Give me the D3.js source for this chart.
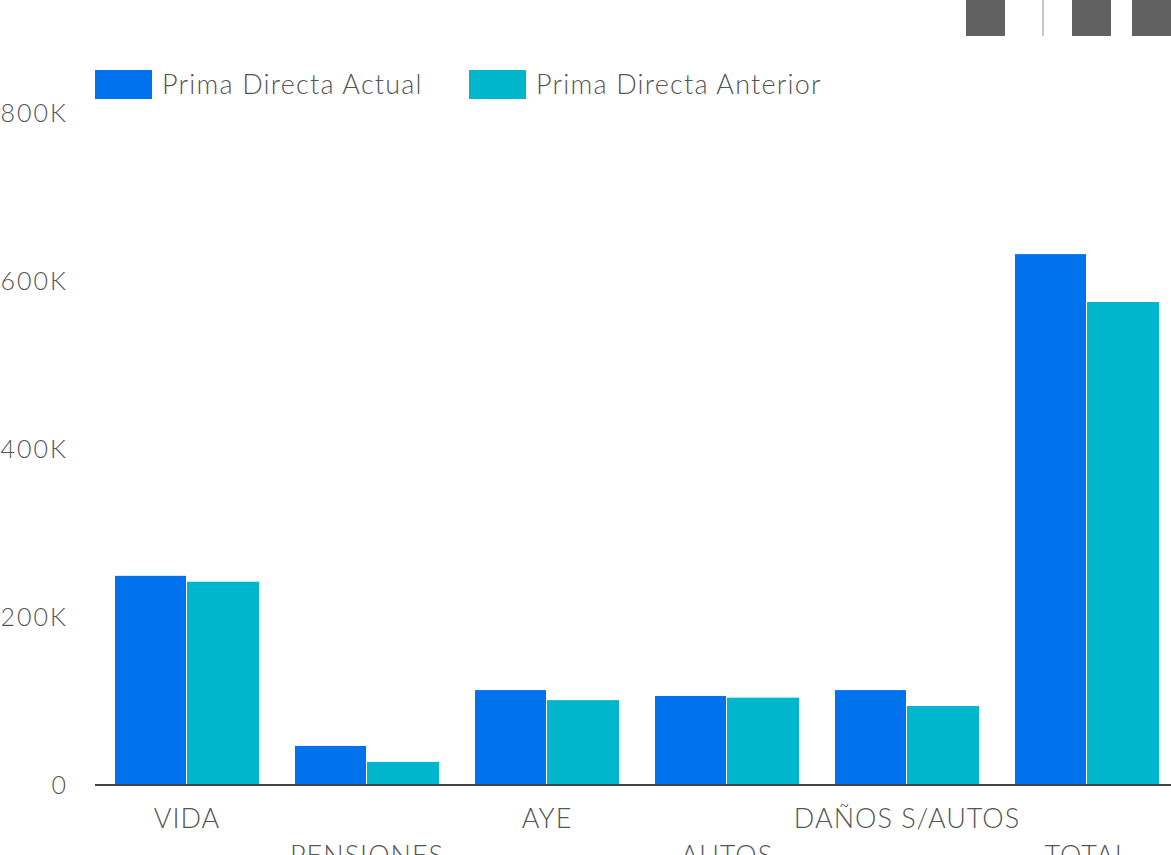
<!DOCTYPE html>
<html>
<head>
<meta charset="utf-8">
<script src="https://cdn.jsdelivr.net/npm/d3@7"></script>
<style>
  body { margin: 0; background: #fff; overflow: hidden; }
  svg text { font-family: Lato, "Open Sans", sans-serif; font-weight: 300; fill: #555; letter-spacing: 1px; }
</style>
</head>
<body>
<div id="chart"></div>
<script>
var categories = ["VIDA", "PENSIONES", "AYE", "AUTOS", "DAÑOS S/AUTOS", "TOTAL"];
var seriesNames = ["Prima Directa Actual", "Prima Directa Anterior"];
var actual = [249000, 46500, 113000, 106000, 113000, 632000];
var anterior = [242000, 27500, 101000, 104000, 94000, 575000];
var yTicks = [0, 200000, 400000, 600000, 800000];
var colors = ["#0072ee", "#00b6cc"];

var width = 1171, height = 855;
var svg = d3.select("#chart").append("svg")
    .attr("width", width)
    .attr("height", height);

// toolbar bits in the top right corner
[966, 1072, 1132].forEach(function(x) {
  svg.append("rect").attr("x", x).attr("y", 0).attr("width", 39).attr("height", 36).attr("fill", "#616161");
});
svg.append("rect").attr("x", 1042).attr("y", 0).attr("width", 2).attr("height", 36).attr("fill", "#c8c8c8");

var rows = categories.map(function(c, i) {
  return { cat: c, values: [actual[i], anterior[i]] };
});

var x0 = d3.scaleBand().domain(categories).range([97, 1177]).paddingInner(0.2).paddingOuter(0.1);
var x1 = d3.scaleBand().domain([0, 1]).range([0, x0.bandwidth()]);
var y = d3.scaleLinear().domain([0, 800000]).range([785, 113]);

// y labels
svg.selectAll(".ytick").data(yTicks).enter().append("text")
    .attr("class", "ytick")
    .attr("x", 68)
    .attr("y", function(d) { return y(d) + 9; })
    .attr("text-anchor", "end")
    .style("font-size", "25px")
    .style("letter-spacing", "2px")
    .text(function(d) { return d === 0 ? "0" : d3.format("d")(d / 1000) + "K"; });

// bars (1px white gap between the pair)
var groups = svg.selectAll(".grp").data(rows).enter().append("g")
    .attr("transform", function(d) { return "translate(" + x0(d.cat) + ",0)"; });

groups.selectAll("rect").data(function(d) { return d.values; }).enter().append("rect")
    .attr("x", function(d, i) { return x1(i); })
    .attr("width", function(d, i) { return i ? x1.bandwidth() : x1.bandwidth() - 1; })
    .attr("y", function(d) { return y(d); })
    .attr("height", function(d) { return y(0) - y(d); })
    .attr("fill", function(d, i) { return colors[i]; });

// axis line
svg.append("rect").attr("x", 95).attr("y", 784).attr("width", 1076).attr("height", 2).attr("fill", "#444");

// x labels, staggered on two rows
svg.selectAll(".xlab").data(categories).enter().append("text")
    .attr("class", "xlab")
    .attr("x", function(d) { return x0(d) + x0.bandwidth() / 2; })
    .attr("y", function(d, i) { return i % 2 ? 865 : 828; })
    .attr("text-anchor", "middle")
    .style("font-size", "27px")
    .text(function(d) { return d; });

// legend
var legendX = [95, 469];
seriesNames.forEach(function(name, i) {
  svg.append("rect").attr("x", legendX[i]).attr("y", 70).attr("width", 57).attr("height", 29).attr("fill", colors[i]);
  svg.append("text").attr("x", legendX[i] + 67).attr("y", 94)
      .style("font-size", "27px")
      .style("letter-spacing", "1.2px")
      .text(name);
});
</script>
</body>
</html>
